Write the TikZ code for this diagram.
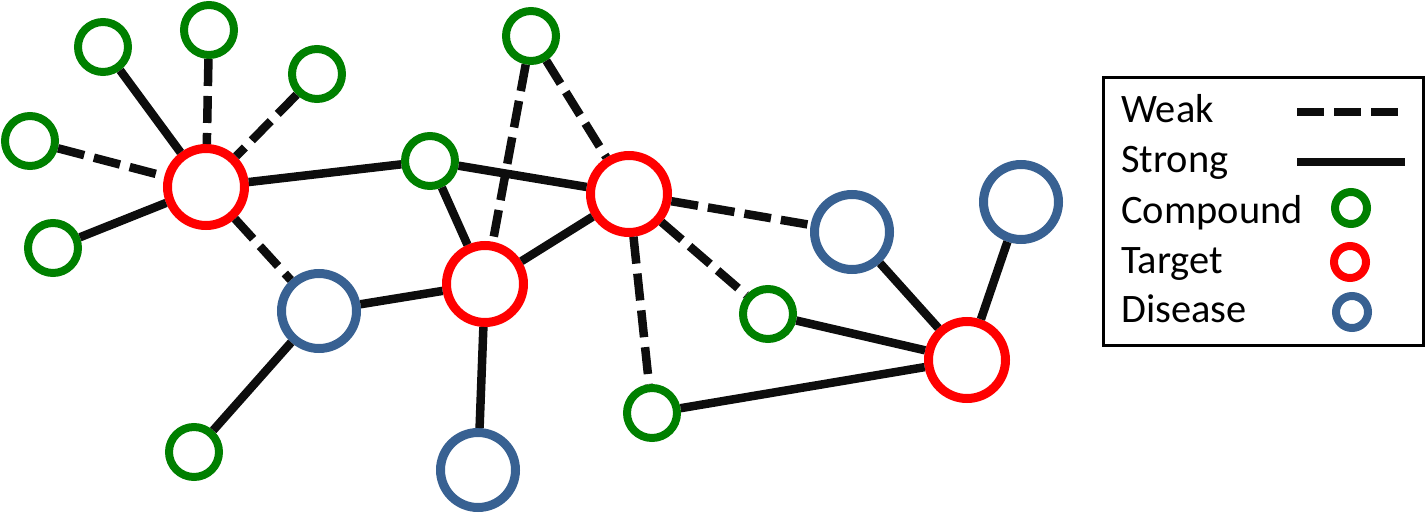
\documentclass[tikz,border=0pt]{standalone}
\usepackage{fontspec}
\setmainfont{Carlito}
\usepackage{tikz}
\usetikzlibrary{positioning}
\definecolor{cpdgreen}{RGB}{0,128,0}
\definecolor{tgtred}{RGB}{255,0,0}
\definecolor{disblue}{RGB}{56,97,146}
\definecolor{edgeblack}{RGB}{13,13,13}
\begin{document}
\begin{tikzpicture}[
			compound/.style={draw=cpdgreen, circle, line width=0.16cm, minimum size=1.0cm, inner sep=0pt},
			target/.style={draw=tgtred, circle, line width=0.18cm, minimum size=1.54cm, inner sep=0pt},
			disease/.style={draw=disblue, circle, line width=0.18cm, minimum size=1.5cm, inner sep=0pt},
			strong/.style={draw=edgeblack, line width=0.17cm},
			weak/.style={strong, dash pattern=on 0.54cm off 0.2cm},
			legtext/.style={anchor=base west, inner sep=0pt, font=\fontsize{23}{27}\selectfont},
			legdot/.style={circle, line width=0.16cm, minimum size=0.64cm, inner sep=0pt},
			]
			\useasboundingbox (0,0) rectangle (28.52,-10.28);
			
			%% ── Compounds ──────────────────────────────────────────────────────────
			\node[compound] (c1)  at (2.06,-0.94) {};
			\node[compound] (c2)  at (4.18,-0.60) {};
			\node[compound] (c3)  at (6.34,-1.48) {};
			\node[compound] (c4)  at (0.60,-2.82) {};
			\node[compound] (c5)  at (1.06,-4.96) {};
			\node[compound] (c6)  at (8.60,-3.22) {};
			\node[compound] (c7)  at (10.62,-0.72) {};
			\node[compound] (c8)  at (15.36,-6.28) {};
			\node[compound] (c9)  at (13.04,-8.26) {};
			\node[compound] (c10) at (3.88,-9.04) {};
			
			%% ── Targets ────────────────────────────────────────────────────────────
			\node[target] (t1) at (4.12,-3.74) {};
			\node[target] (t2) at (9.70,-5.68) {};
			\node[target] (t3) at (12.58,-3.88) {};
			\node[target] (t4) at (19.34,-7.20) {};
			
			%% ── Diseases ───────────────────────────────────────────────────────────
			\node[disease] (d1) at (6.38,-6.22) {};
			\node[disease] (d2) at (17.04,-4.64) {};
			\node[disease] (d3) at (20.42,-4.04) {};
			\node[disease] (d4) at (9.56,-9.40) {};
			
			%% ── Edges ──────────────────────────────────────────────────────────────
			\draw[strong] (c1) -- (t1);
			\draw[weak]   (c2) -- (t1);
			\draw[weak]   (c3) -- (t1);
			\draw[weak]   (c4) -- (t1);
			\draw[strong] (c5) -- (t1);
			\draw[strong] (t1) -- (c6);
			\draw[weak]   (t1) -- (d1);
			\draw[strong] (c6) -- (t3);
			\draw[strong] (c6) -- (t2);
			\draw[weak]   (c7) -- (t2);
			\draw[weak]   (c7) -- (t3);
			\draw[strong] (t2) -- (t3);
			\draw[strong] (d1) -- (t2);
			\draw[strong] (d1) -- (c10);
			\draw[strong] (t2) -- (d4);
			\draw[weak]   (t3) -- (d2);
			\draw[weak]   (t3) -- (c8);
			\draw[weak]   (t3) -- (c9);
			\draw[strong] (c8) -- (t4);
			\draw[strong] (c9) -- (t4);
			\draw[strong] (d2) -- (t4);
			\draw[strong] (d3) -- (t4);
			
			%% ── Legend ─────────────────────────────────────────────────────────────
			\draw[line width=0.06cm] (22.06,-1.56) rectangle (28.46,-6.90);
			\node[legtext] (lweak)  at (22.42,-2.46) {Weak};
			\node[legtext] (lstrong) at (22.42,-3.44) {Strong};
			\node[legtext] (lcpd)   at (22.42,-4.46) {Compound};
			\node[legtext] (ltgt)   at (22.42,-5.46) {Target};
			\node[legtext] (ldis)   at (22.42,-6.44) {Disease};
			\coordinate (wa) at (25.94,-2.24);
			\coordinate (wb) at (28.10,-2.24);
			\coordinate (sa) at (25.94,-3.24);
			\coordinate (sb) at (28.10,-3.24);
			\draw[weak]   (wa) -- (wb);
			\draw[strong] (sa) -- (sb);
			\node[legdot, draw=cpdgreen] (kcpd) at (27.02,-4.16) {};
			\node[legdot, draw=tgtred]   (ktgt) at (27.00,-5.24) {};
			\node[legdot, draw=disblue]  (kdis) at (27.04,-6.24) {};
			
		\end{tikzpicture}
\end{document}
